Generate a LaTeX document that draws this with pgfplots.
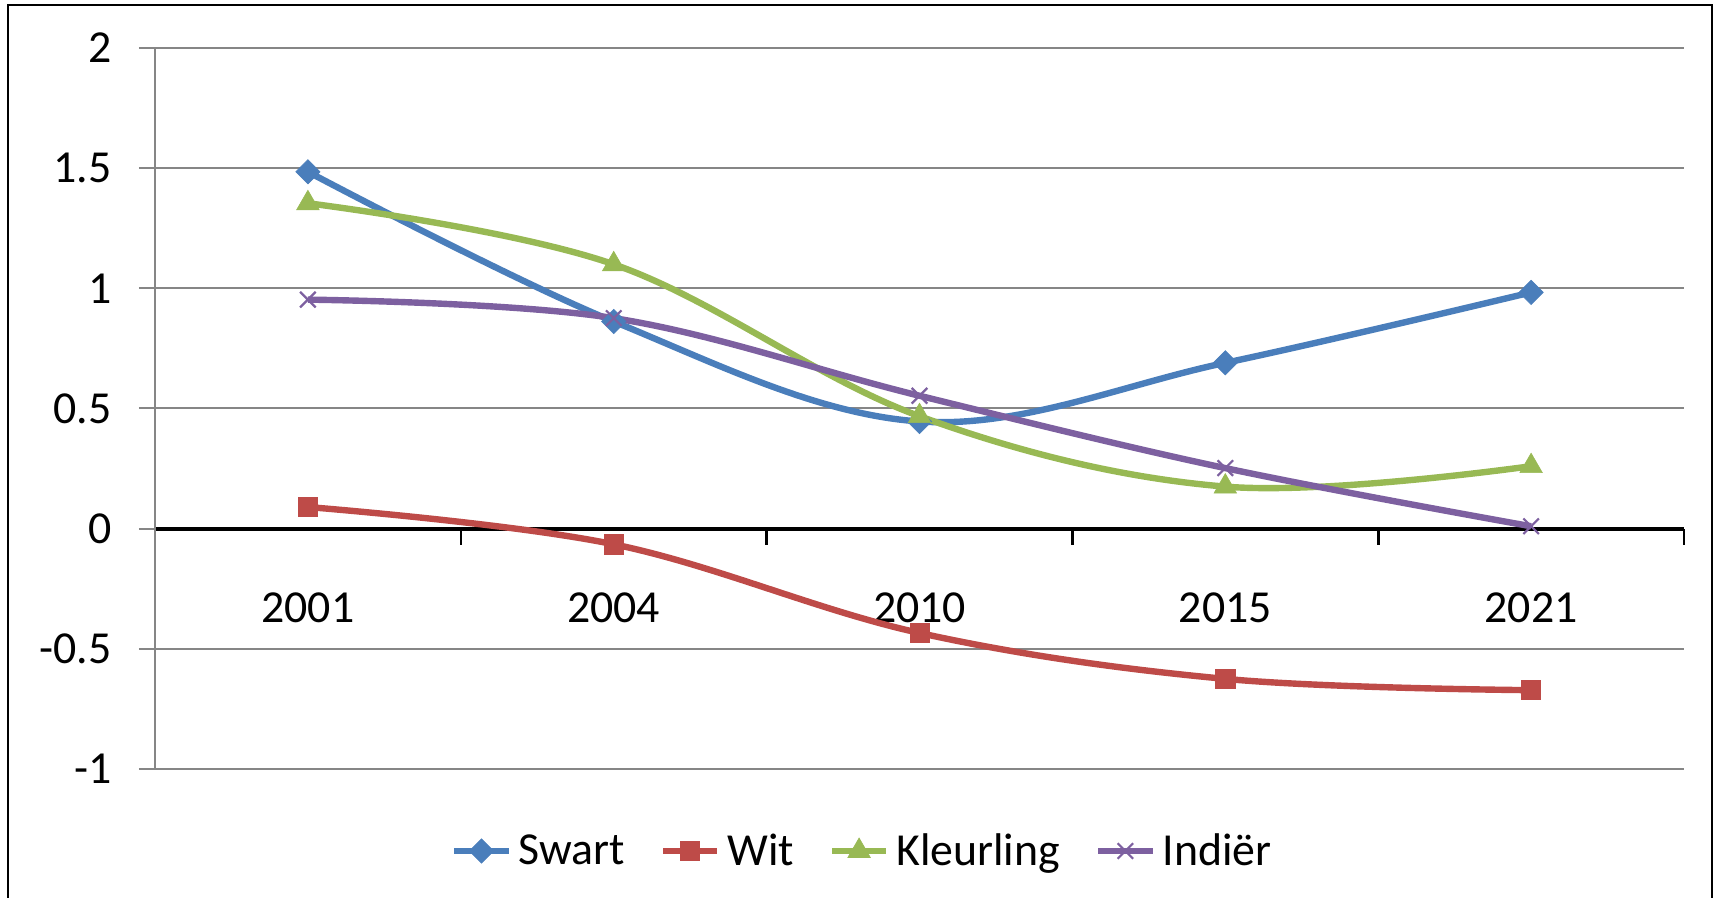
\documentclass[border=0pt]{standalone}
\usepackage{fontspec}
\setmainfont{Carlito}
\usepackage{pgfplots}
\pgfplotsset{compat=1.18}
\definecolor{cSwart}{HTML}{4A7EBB}
\definecolor{cWit}{HTML}{BE4B48}
\definecolor{cKleur}{HTML}{98B954}
\definecolor{cInd}{HTML}{7D60A0}
\definecolor{gridgray}{HTML}{868686}
\begin{document}
\begin{tikzpicture}
\useasboundingbox (-77.5bp,-64.5bp) rectangle (780bp,384.5bp);
\draw[black, line width=1.2bp] (-73.5bp,-80bp) rectangle (778.5bp,382bp);
\begin{axis}[
  at={(0,0)}, anchor=south west,
  scale only axis, width=764.5bp, height=360.5bp,
  xmin=-0.5, xmax=4.5, ymin=-1, ymax=2,
  axis x line=middle, axis y line=left,
  axis line style={-},
  x axis line style={black, line width=2bp},
  y axis line style={gridgray, line width=1bp},
  xtick={-0.5,0.5,1.5,2.5,3.5,4.5},
  xticklabels={},
  x tick style={black, line width=1.3bp},
  xtick align=outside,
  major tick length=8bp,
  extra x ticks={0,1,2,3,4},
  extra x tick labels={2001,2004,2010,2015,2021},
  extra x tick style={major tick length=0pt, tick style={draw=none},
     xticklabel style={anchor=center, inner sep=0pt, yshift=-39.5bp}},
  ytick={-1,-0.5,0,0.5,1,1.5,2},
  yticklabels={-1,-0.5,0,0.5,1,1.5,2},
  ytick align=outside,
  y tick style={gridgray, line width=1bp},
  yticklabel style={anchor=east, inner sep=0pt, xshift=-13.5bp},
  ymajorgrids,
  major grid style={gridgray, line width=1bp},
  tick label style={font=\fontsize{23}{28}\selectfont},
  clip=false,
  legend columns=-1,
  legend style={at={(0.462,-0.1137)}, anchor=center, draw=none, fill=none,
    font=\fontsize{23}{28}\selectfont,
    nodes={inner sep=0pt},
    /tikz/every even column/.append style={column sep=17.5bp},
    /tikz/every odd column/.append style={column sep=3.5bp}},
  legend image code/.code={\draw[mark repeat=2,mark phase=2] plot coordinates {(0bp,0bp) (13.5bp,0bp) (27bp,0bp)};},
]
\addplot[cSwart, line width=3.2bp, smooth, tension=0.6, mark=square*, mark size=4.3bp, mark options={solid, rotate=45, line width=0.3bp, fill=cSwart}]
  coordinates {(0,1.485) (1,0.862) (2,0.446) (3,0.69) (4,0.983)};
\addlegendentry{Swart}
\addplot[cWit, line width=3.2bp, smooth, tension=0.6, mark=square*, mark size=4.8bp, mark options={solid, line width=0.3bp, fill=cWit}]
  coordinates {(0,0.09) (1,-0.065) (2,-0.434) (3,-0.625) (4,-0.672)};
\addlegendentry{Wit}
\addplot[cKleur, line width=3.2bp, smooth, tension=0.6, mark=triangle*, mark size=6.5bp, mark options={solid, line width=0.3bp, fill=cKleur}]
  coordinates {(0,1.354) (1,1.10) (2,0.468) (3,0.175) (4,0.26)};
\addlegendentry{Kleurling}
\addplot[cInd, line width=3.2bp, smooth, tension=0.6, mark=x, mark size=5.5bp, mark options={solid, line width=1.1bp}]
  coordinates {(0,0.953) (1,0.876) (2,0.553) (3,0.252) (4,0.01)};
\addlegendentry{Indiër}
\end{axis}
\end{tikzpicture}
\end{document}
